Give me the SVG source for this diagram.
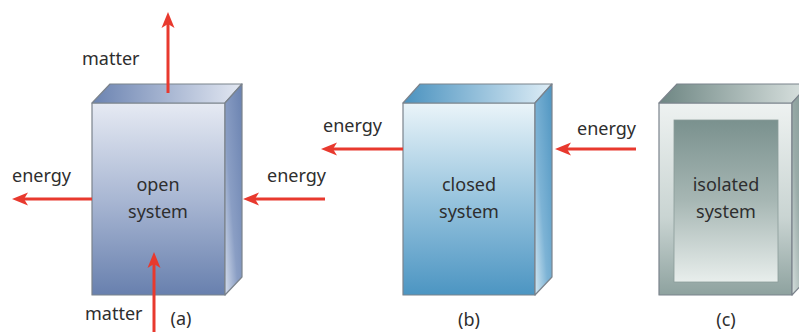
<svg xmlns="http://www.w3.org/2000/svg" width="799" height="332" viewBox="0 0 799 332">
<defs>
<style>
text{font-family:"Noto Sans","Liberation Sans",sans-serif;font-size:18px;fill:#2e2e2e}
.c{text-anchor:middle}
.edge{stroke:#7b838c;stroke-width:1.2;stroke-linejoin:round}
.arr{stroke:#e8392e;stroke-width:3;fill:none;marker-end:url(#head)}
</style>
<marker id="head" markerUnits="userSpaceOnUse" markerWidth="20" markerHeight="16" viewBox="0 -8 20 16" refX="6" refY="0" orient="auto">
<path d="M16,0 L0,-6.5 L4,0 L0,6.5 Z" fill="#e8392e"/>
</marker>
<linearGradient id="aF" x1="0" y1="0" x2="0" y2="1"><stop offset="0" stop-color="#e6eaf3"/><stop offset="0.5" stop-color="#a9b7d3"/><stop offset="1" stop-color="#6880ae"/></linearGradient>
<linearGradient id="aT" x1="0" y1="0" x2="1" y2="0"><stop offset="0" stop-color="#6b83b1"/><stop offset="1" stop-color="#e3e8f2"/></linearGradient>
<linearGradient id="aS" x1="1" y1="0" x2="0" y2="1"><stop offset="0" stop-color="#6a82b0"/><stop offset="0.6" stop-color="#8a9ec4"/><stop offset="1" stop-color="#d4ddec"/></linearGradient>
<linearGradient id="bF" x1="0" y1="0" x2="0" y2="1"><stop offset="0" stop-color="#eaf4f9"/><stop offset="0.5" stop-color="#98c4de"/><stop offset="1" stop-color="#4c95c2"/></linearGradient>
<linearGradient id="bT" x1="0" y1="0" x2="1" y2="0"><stop offset="0" stop-color="#4a92bf"/><stop offset="1" stop-color="#deedf6"/></linearGradient>
<linearGradient id="bS" x1="1" y1="0" x2="0" y2="1"><stop offset="0" stop-color="#4f95c1"/><stop offset="0.6" stop-color="#7db3d5"/><stop offset="1" stop-color="#d2e7f2"/></linearGradient>
<linearGradient id="cF" x1="0" y1="0" x2="0" y2="1"><stop offset="0" stop-color="#eef2f1"/><stop offset="0.6" stop-color="#c9d4d2"/><stop offset="1" stop-color="#8ea29f"/></linearGradient>
<linearGradient id="cI" x1="0" y1="0" x2="0" y2="1"><stop offset="0" stop-color="#7a918e"/><stop offset="0.5" stop-color="#a7b7b4"/><stop offset="1" stop-color="#e8eeec"/></linearGradient>
<linearGradient id="cT" x1="0" y1="0" x2="1" y2="0"><stop offset="0" stop-color="#6e8683"/><stop offset="1" stop-color="#dbe3e1"/></linearGradient>
<linearGradient id="cS" x1="1" y1="0" x2="0" y2="1"><stop offset="0" stop-color="#7a918e"/><stop offset="0.6" stop-color="#9aaca9"/><stop offset="1" stop-color="#d6dfdd"/></linearGradient>
</defs>
<rect width="799" height="332" fill="#ffffff"/>
<g id="open-system">
<rect class="edge" x="92" y="103" width="133" height="192" fill="url(#aF)"/>
<polygon class="edge" points="92,103 110,84 242,84 225,103" fill="url(#aT)"/>
<polygon class="edge" points="225,103 242,84 242,277 225,295" fill="url(#aS)"/>
<text class="c" x="158" y="191">open</text>
<text class="c" x="158" y="218">system</text>
<text class="c" x="181" y="325">(a)</text>
</g>
<g id="closed-system">
<rect class="edge" x="403" y="103" width="132" height="192" fill="url(#bF)"/>
<polygon class="edge" points="403,103 420,84 552,84 535,103" fill="url(#bT)"/>
<polygon class="edge" points="535,103 552,84 552,277 535,295" fill="url(#bS)"/>
<text class="c" x="469" y="191">closed</text>
<text class="c" x="469" y="218">system</text>
<text class="c" x="469" y="326">(b)</text>
</g>
<g id="isolated-system">
<rect class="edge" x="659" y="103" width="133" height="192" fill="url(#cF)"/>
<polygon class="edge" points="659,103 677,84 809,84 792,103" fill="url(#cT)"/>
<polygon class="edge" points="792,103 809,84 809,277 792,295" fill="url(#cS)"/>
<rect x="674" y="120" width="104" height="162" fill="url(#cI)" stroke="#8a9c99" stroke-width="0.8"/>
<text class="c" x="726" y="191">isolated</text>
<text class="c" x="726" y="218">system</text>
<text class="c" x="726" y="326">(c)</text>
</g>
<g id="connectors">
<line class="arr" x1="168" y1="93" x2="168" y2="22"/>
<line class="arr" x1="92" y1="199" x2="22" y2="199"/>
<line class="arr" x1="325" y1="199" x2="253" y2="199"/>
<line class="arr" x1="154" y1="332" x2="154" y2="262"/>
<line class="arr" x1="403" y1="149" x2="331" y2="149"/>
<line class="arr" x1="636" y1="149" x2="565" y2="149"/>
</g>
<g id="labels">
<text x="82" y="65">matter</text>
<text x="12" y="182">energy</text>
<text x="267" y="182">energy</text>
<text x="85" y="320">matter</text>
<text x="323" y="132">energy</text>
<text x="577" y="135">energy</text>
</g>
</svg>
